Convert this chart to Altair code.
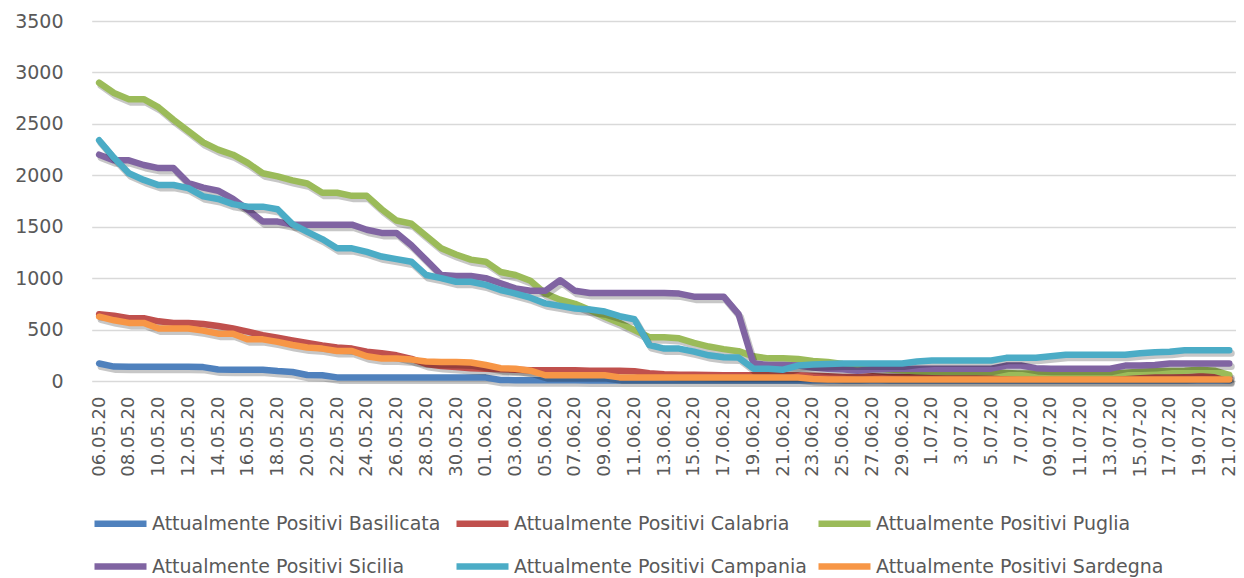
import altair as alt
import pandas as pd

dates = [
    "06.05.20", "07.05.20", "08.05.20", "09.05.20", "10.05.20", "11.05.20", "12.05.20", "13.05.20",
    "14.05.20", "15.05.20", "16.05.20", "17.05.20", "18.05.20", "19.05.20", "20.05.20", "21.05.20",
    "22.05.20", "23.05.20", "24.05.20", "25.05.20", "26.05.20", "27.05.20", "28.05.20", "29.05.20",
    "30.05.20", "31.05.20",
    "01.06.20", "02.06.20", "03.06.20", "04.06.20", "05.06.20", "06.06.20", "07.06.20", "08.06.20",
    "09.06.20", "10.06.20", "11.06.20", "12.06.20", "13.06.20", "14.06.20", "15.06.20", "16.06.20",
    "17.06.20", "18.06.20", "19.06.20", "20.06.20", "21.06.20", "22.06.20", "23.06.20", "24.06.20",
    "25.06.20", "26.06.20", "27.06.20", "28.06.20", "29.06.20", "30.06.20",
    "1.07.20", "02.07.20", "3.07.20", "04.07.20", "5.07.20", "06.07.20", "7.07.20", "08.07.20",
    "09.07.20", "10.07.20", "11.07.20", "12.07.20", "13.07.20", "14.07.20", "15.07-20", "16.07.20",
    "17.07.20", "18.07.20", "19.07.20", "20.07.20", "21.07.20",
]

series = [
    "Attualmente Positivi Basilicata",
    "Attualmente Positivi Calabria",
    "Attualmente Positivi Puglia",
    "Attualmente Positivi Sicilia",
    "Attualmente Positivi Campania",
    "Attualmente Positivi Sardegna",
]
colors = ["#4F81BD", "#C0504D", "#9BBB59", "#8064A2", "#4BACC6", "#F79646"]

basilicata = [170, 140, 138, 138, 138, 138, 138, 135, 112, 110,
              110, 110, 97, 88, 58, 56, 35, 33, 33, 33,
              33, 33, 33, 33, 33, 33, 33, 10, 8, 8,
              8, 8, 8, 6, 6, 6, 5, 5, 5, 5,
              5, 5, 5, 5, 5, 5, 5, 5, 5, 5,
              5, 5, 5, 5, 5, 5, 5, 5, 5, 5,
              5, 5, 5, 5, 5, 5, 5, 5, 5, 5,
              5, 5, 5, 5, 5, 5, 5]
calabria = [650, 635, 610, 610, 580, 565, 565, 555, 535, 510,
            480, 445, 420, 395, 370, 345, 325, 315, 285, 270,
            250, 215, 165, 145, 135, 125, 120, 115, 110, 105,
            105, 105, 105, 100, 100, 100, 95, 75, 65, 60,
            60, 58, 56, 55, 55, 55, 55, 55, 50, 45,
            40, 40, 45, 40, 40, 40, 40, 40, 40, 40,
            40, 40, 40, 40, 40, 40, 40, 40, 40, 40,
            40, 40, 40, 40, 45, 45, 40]
puglia = [2900, 2800, 2740, 2740, 2660, 2540, 2430, 2320, 2250, 2200,
          2120, 2020, 1990, 1950, 1920, 1830, 1830, 1800, 1800, 1670,
          1560, 1530, 1410, 1290, 1230, 1180, 1160, 1060, 1030, 975,
          850, 790, 750, 690, 625, 565, 495, 425, 425, 415,
          370, 335, 310, 290, 240, 220, 220, 215, 195, 185,
          165, 150, 130, 115, 105, 95, 90, 88, 88, 88,
          85, 78, 72, 72, 72, 72, 72, 72, 72, 80,
          90, 97, 97, 100, 110, 100, 60]
sicilia = [2200, 2145, 2145, 2100, 2070, 2070, 1925, 1880, 1850, 1770,
           1665, 1550, 1550, 1520, 1520, 1520, 1520, 1520, 1470, 1440,
           1440, 1320, 1175, 1030, 1020, 1020, 1000, 950, 900, 877,
           877, 980, 877, 855, 855, 855, 855, 855, 855, 850,
           820, 820, 820, 650, 170, 155, 155, 150, 130, 120,
           115, 100, 115, 120, 120, 120, 120, 120, 120, 120,
           120, 150, 150, 125, 120, 120, 120, 120, 120, 150,
           150, 155, 170, 170, 170, 170, 170]
campania = [2340, 2170, 2020, 1955, 1905, 1905, 1875, 1795, 1770, 1720,
            1695, 1695, 1670, 1525, 1450, 1380, 1290, 1290, 1255, 1210,
            1185, 1160, 1030, 1000, 965, 965, 935, 885, 850, 810,
            755, 730, 705, 695, 675, 630, 600, 350, 315, 315,
            285, 250, 230, 228, 120, 120, 110, 150, 160, 165,
            170, 170, 170, 170, 170, 190, 200, 200, 200, 200,
            200, 225, 225, 225, 240, 255, 255, 255, 255, 255,
            270, 280, 285, 300, 300, 300, 300]
sardegna = [625, 590, 565, 565, 510, 510, 510, 490, 460, 460,
            405, 405, 380, 350, 325, 315, 292, 292, 240, 218,
            218, 208, 190, 185, 185, 180, 155, 125, 120, 100,
            56, 56, 56, 56, 56, 35, 33, 33, 33, 33,
            33, 33, 33, 33, 33, 33, 33, 33, 20, 15,
            15, 15, 15, 15, 15, 15, 15, 15, 15, 15,
            15, 15, 15, 15, 15, 15, 15, 15, 15, 15,
            15, 15, 15, 15, 15, 15, 15]

y_ticks = [0, 500, 1000, 1500, 2000, 2500, 3000, 3500]

all_values = [basilicata, calabria, puglia, sicilia, campania, sardegna]
rows = []
for name, vals in zip(series, all_values):
    for d, v in zip(dates, vals):
        rows.append({"date": d, "series": name, "value": v})
df = pd.DataFrame(rows)

# legend fills column by column: order entries so rows read as in the original
legend_order = [0, 3, 1, 4, 2, 5]
legend_domain = [series[k] for k in legend_order]
legend_range = [colors[k] for k in legend_order]

FONT = "DejaVu Sans"
TXT = "#595959"

x_enc = alt.X(
    "date:O",
    sort=dates,
    scale=alt.Scale(type="point", range=[7.7, 1152.7]),
    axis=alt.Axis(
        values=dates[::2], labelAngle=270, grid=False, domain=False, ticks=False,
        labelPadding=15, labelFontSize=18, labelFont=FONT, labelColor=TXT,
        title=None, labelOverlap=False,
    ),
)
y_enc = alt.Y(
    "value:Q",
    scale=alt.Scale(domain=[0, 3500], nice=False),
    axis=alt.Axis(
        values=y_ticks, format="d", grid=True, gridColor="#D9D9D9", gridWidth=1.3,
        domain=False, ticks=False, labelPadding=21, labelFontSize=19, labelFont=FONT,
        labelColor=TXT, title=None,
    ),
)
color_enc = alt.Color(
    "series:N",
    scale=alt.Scale(domain=legend_domain, range=legend_range),
    legend=alt.Legend(
        orient="none", legendX=7, legendY=473, columns=3, gridAlign="all",
        symbolType="stroke", symbolSize=2704, symbolStrokeWidth=6.5,
        labelFontSize=19, labelFont=FONT, labelColor=TXT, labelLimit=0,
        labelOffset=2, title=None, columnPadding=-2, rowPadding=-5, padding=0,
    ),
)

layers = []
for s in series:
    base = alt.Chart(df).transform_filter(alt.datum.series == s)
    shadow = base.mark_line(
        color="#000000", opacity=0.22, strokeWidth=7, strokeCap="round",
        strokeJoin="round", xOffset=2, yOffset=3,
    ).encode(x=x_enc, y=y_enc)
    line = base.mark_line(
        strokeWidth=6.5, strokeCap="round", strokeJoin="round",
    ).encode(x=x_enc, y=y_enc, color=color_enc)
    layers += [shadow, line]

chart = alt.layer(*layers).properties(
    width=1152,
    height=360,
    autosize=alt.AutoSizeParams(type="none"),
    padding={"left": 76, "top": 13, "right": 0, "bottom": 197},
    background="white",
).configure_view(stroke=None)

chart.save("out.html", embed_options={"renderer": "svg", "actions": False})
